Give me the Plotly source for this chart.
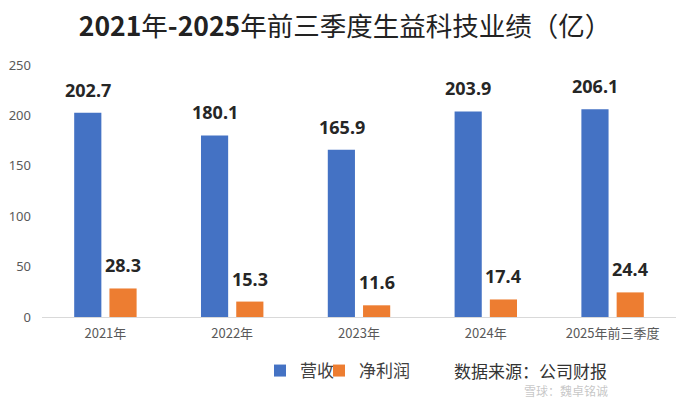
import plotly.graph_objects as go

categories = ["2021年", "2022年", "2023年", "2024年", "2025年前三季度"]
revenue = [202.7, 180.1, 165.9, 203.9, 206.1]
net_profit = [28.3, 15.3, 11.6, 17.4, 24.4]
series_names = ["营收", "净利润"]
y_ticks = [0, 50, 100, 150, 200, 250]

BLUE = "#4472C4"
ORANGE = "#ED7D31"
CJK = "Noto Sans CJK SC"

L, R, T, B = 42, 16, 65, 81
pw = 692 - L - R
ph = 398 - T - B


def px(x):
    return (x - L) / pw


def py(y):
    return (398 - B - y) / ph


fig = go.Figure()
fig.add_trace(go.Bar(x=categories, y=revenue, name=series_names[0], legend="legend",
                     marker=dict(color=BLUE, line=dict(width=0))))
fig.add_trace(go.Bar(x=categories, y=net_profit, name=series_names[1], legend="legend2",
                     marker=dict(color=ORANGE, line=dict(width=0))))

annotations = []
for series, shift in ((revenue, -17.5), (net_profit, 17.5)):
    for c, v in zip(categories, series):
        annotations.append(dict(
            x=c, y=v, xref="x", yref="y", text=f"<b>{v:.1f}</b>",
            showarrow=False, xshift=shift, yshift=9, yanchor="bottom",
            font=dict(family="Noto Sans, " + CJK, size=18, color="#262626")))

annotations.append(dict(
    x=px(452), y=py(370), xref="paper", yref="paper", text="数据来源：公司财报",
    showarrow=False, xanchor="left", yanchor="middle",
    font=dict(family=CJK, size=17, color="#333333")))
annotations.append(dict(
    x=px(522), y=py(390), xref="paper", yref="paper", text="雪球：魏卓铭诚",
    showarrow=False, xanchor="left", yanchor="middle",
    font=dict(family=CJK, size=12, color="rgba(150,150,150,0.55)")))

legend_common = dict(orientation="h", xanchor="left", yanchor="middle",
                     font=dict(family=CJK, size=17, color="#404040"),
                     itemwidth=30, bgcolor="rgba(0,0,0,0)")

fig.update_layout(
    width=692, height=398,
    margin=dict(l=L, r=R, t=T, b=B, autoexpand=False),
    paper_bgcolor="white", plot_bgcolor="white",
    title=dict(
        text="<b>2021</b>年<b>-2025</b>年前三季度生益科技业绩（亿）",
        x=345 / 692, xref="container", xanchor="center",
        y=1 - 27 / 398, yref="container", yanchor="middle",
        font=dict(family=CJK, size=26.5, color="#222222")),
    barmode="group", bargap=0.444, bargroupgap=0.229,
    showlegend=True,
    legend=dict(x=px(260), y=py(371), **legend_common),
    legend2=dict(x=px(319), y=py(371), **legend_common),
    annotations=annotations,
)
fig.update_xaxes(showline=True, linecolor="#D9D9D9", linewidth=1, showgrid=False,
                 ticks="", tickfont=dict(family=CJK, size=13, color="#595959"),
                 ticklabelstandoff=4)
fig.update_yaxes(range=[0, 250], tickvals=y_ticks, showgrid=False, zeroline=False,
                 showline=False, ticks="", ticklabelstandoff=10,
                 tickfont=dict(family="Noto Sans, " + CJK, size=13, color="#595959"))

fig.write_html("out.html", config={"displayModeBar": False},
               post_script="document.body.style.margin='0';")
